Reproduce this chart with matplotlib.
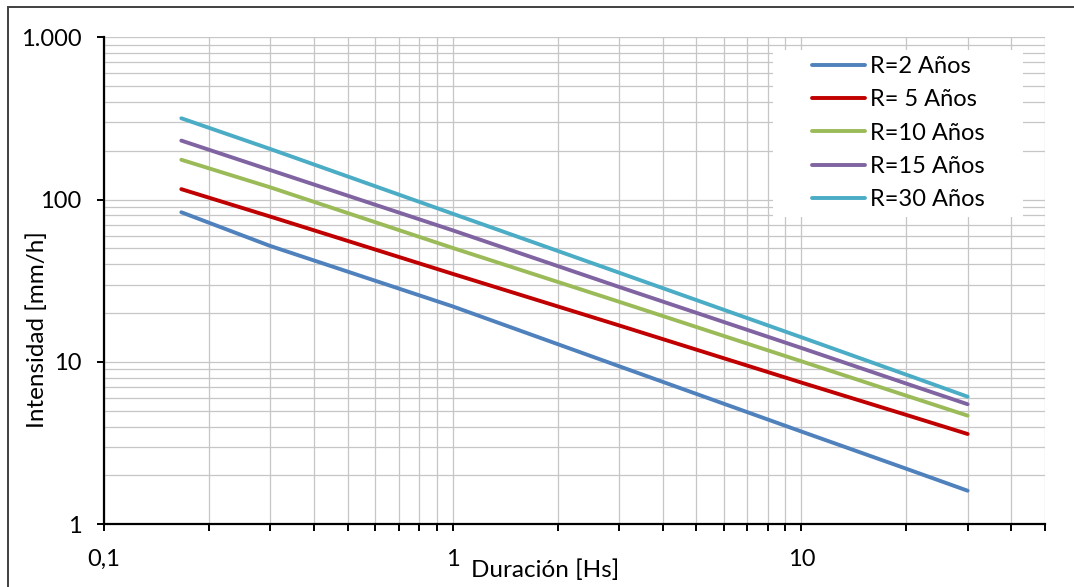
import matplotlib
matplotlib.use('Agg')
import matplotlib.pyplot as plt
from matplotlib.patches import Rectangle
from matplotlib.ticker import FixedLocator, FuncFormatter, LogLocator

# ---------------------------------------------------------------------------
# Data
# ---------------------------------------------------------------------------

durations = [1 / 6, 0.3, 1, 3, 10, 20, 30]   # hs

i_r2 = [83.6, 51.8, 22.0, 9.42, 3.73, 2.20, 1.61]
i_r5 = [116, 78.6, 34.9, 16.8, 7.47, 4.72, 3.60]
i_r10 = [176, 119, 50.4, 23.5, 10.1, 6.20, 4.67]
i_r15 = [231, 152, 64.7, 29.0, 12.2, 7.36, 5.49]
i_r30 = [317, 205, 81.9, 35.5, 14.2, 8.35, 6.11]

series_labels = ["R=2 Años", "R= 5 Años", "R=10 Años", "R=15 Años", "R=30 Años"]
series_values = [i_r2, i_r5, i_r10, i_r15, i_r30]
series_colors = ["#4F81BD", "#C00000", "#9BBB59", "#8064A2", "#4BACC6"]

x_ticks = [0.1, 1, 10]
x_tick_labels = ["0,1", "1", "10"]
y_ticks = [1, 10, 100, 1000]
y_tick_labels = ["1", "10", "100", "1.000"]

FONT = "Lato"
FS = 17

plt.rcParams['font.family'] = [FONT, 'DejaVu Sans']

fig = plt.figure(figsize=(10.74, 5.87), dpi=100)
ax = fig.add_axes([0.0968, 0.1068, 0.8762, 0.8297])

for vals, lab, col in zip(series_values, series_labels, series_colors):
    ax.plot(durations, vals, color=col, linewidth=2.8, label=lab,
            solid_capstyle='round', zorder=3)

ax.set_xscale('log')
ax.set_yscale('log')
ax.set_xlim(0.1, 50)
ax.set_ylim(1, 1000)

# ticks
ax.xaxis.set_major_locator(FixedLocator(x_ticks))
ax.xaxis.set_major_formatter(FuncFormatter(
    lambda v, p: x_tick_labels[x_ticks.index(v)] if v in x_ticks else ""))
ax.xaxis.set_minor_locator(LogLocator(base=10, subs=range(2, 10)))
ax.xaxis.set_minor_formatter(FuncFormatter(lambda v, p: ""))
ax.yaxis.set_major_locator(FixedLocator(y_ticks))
ax.yaxis.set_major_formatter(FuncFormatter(
    lambda v, p: y_tick_labels[y_ticks.index(v)] if v in y_ticks else ""))
ax.yaxis.set_minor_locator(LogLocator(base=10, subs=range(2, 10)))
ax.yaxis.set_minor_formatter(FuncFormatter(lambda v, p: ""))

ax.tick_params(axis='x', which='both', direction='out', length=5, width=1.4,
               pad=13, labelsize=FS)
ax.tick_params(axis='y', which='major', direction='out', length=5, width=1.4,
               pad=11, labelsize=FS)
ax.tick_params(axis='y', which='minor', length=0)

ax.grid(True, which='both', color='#c6c6c6', linewidth=0.9)
ax.set_axisbelow(True)

for s in ['top', 'right']:
    ax.spines[s].set_visible(False)
for s in ['left', 'bottom']:
    ax.spines[s].set_linewidth(1.6)

ax.set_xlabel("Duración [Hs]", fontsize=17.5, va='center')
ax.xaxis.set_label_coords(0.4687, -0.094)
ax.set_ylabel("Intensidad [mm/h]", fontsize=17.5, va='center')
ax.yaxis.set_label_coords(-0.071, 0.399)

# white legend area (drawn inside the axes, under the legend)
legend_bg = Rectangle((773 / 1074, 1 - 217 / 587), 250 / 1074, 167 / 587,
                      transform=fig.transFigure, facecolor='white',
                      edgecolor='none', zorder=4, clip_on=False)
ax.add_artist(legend_bg)

leg = ax.legend(loc='upper left', bbox_to_anchor=(812 / 1074, 1 - 56 / 587),
                bbox_transform=fig.transFigure, fontsize=FS, frameon=False,
                handlelength=2.25, handletextpad=0.2, labelspacing=0.52,
                borderpad=0, borderaxespad=0)
leg.set_zorder(5)

# outer chart border (only left/top visible in the crop)
fig.patches.append(Rectangle((8 / 1074, -0.2), 1.2, 1.2 - 7 / 587,
                             transform=fig.transFigure, fill=False,
                             edgecolor='#404040', linewidth=1.4))

fig.savefig("out.png", dpi=100)
